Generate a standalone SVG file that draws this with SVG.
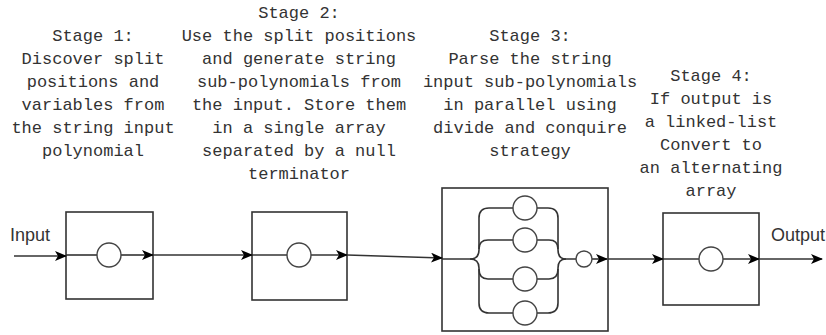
<svg xmlns="http://www.w3.org/2000/svg" width="826" height="335" viewBox="0 0 826 335">
  <style>
    .box { fill: #ffffff; stroke: #333333; stroke-width: 1.6; }
    .node { fill: #ffffff; stroke: #444444; stroke-width: 1.4; }
    .wire { fill: none; stroke: #333333; stroke-width: 1.6; }
    .label { font-family: "Liberation Mono", "Courier New", monospace; font-size: 17px; fill: #333333; text-anchor: middle; }
    .io { font-family: "Liberation Sans", Arial, sans-serif; font-size: 18px; fill: #333333; }
  </style>
  <defs>
    <marker id="arrow" viewBox="0 0 12 10" refX="11" refY="5" markerWidth="12" markerHeight="10" markerUnits="userSpaceOnUse" orient="auto">
      <path d="M0,0 L12,5 L0,10 L3,5 Z" fill="#000000"/>
    </marker>
  </defs>

  <!-- stage descriptions -->
  <g id="text-stage1">
    <text class="label" x="93" y="41">Stage 1:</text>
    <text class="label" x="93" y="64">Discover split</text>
    <text class="label" x="93" y="87">positions and</text>
    <text class="label" x="93" y="110">variables from</text>
    <text class="label" x="93" y="133">the string input</text>
    <text class="label" x="93" y="156">polynomial</text>
  </g>
  <g id="text-stage2">
    <text class="label" x="299" y="18">Stage 2:</text>
    <text class="label" x="299" y="41">Use the split positions</text>
    <text class="label" x="299" y="64">and generate string</text>
    <text class="label" x="299" y="87">sub-polynomials from</text>
    <text class="label" x="299" y="110">the input. Store them</text>
    <text class="label" x="299" y="133">in a single array</text>
    <text class="label" x="299" y="156">separated by a null</text>
    <text class="label" x="299" y="179">terminator</text>
  </g>
  <g id="text-stage3">
    <text class="label" x="530" y="41">Stage 3:</text>
    <text class="label" x="530" y="64">Parse the string</text>
    <text class="label" x="530" y="87">input sub-polynomials</text>
    <text class="label" x="530" y="110">in parallel using</text>
    <text class="label" x="530" y="133">divide and conquire</text>
    <text class="label" x="530" y="156">strategy</text>
  </g>
  <g id="text-stage4">
    <text class="label" x="711" y="81">Stage 4:</text>
    <text class="label" x="711" y="104">If output is</text>
    <text class="label" x="711" y="127">a linked-list</text>
    <text class="label" x="711" y="150">Convert to</text>
    <text class="label" x="711" y="173">an alternating</text>
    <text class="label" x="711" y="196">array</text>
  </g>
  <g id="input-label"><text class="io" x="10" y="241">Input</text></g>
  <g id="output-label"><text class="io" x="771" y="241">Output</text></g>

  <!-- stage 1: discovery -->
  <g id="stage1">
    <rect class="box" x="66" y="212" width="87" height="87"/>
    <line class="wire" x1="66" y1="255" x2="97" y2="255"/>
    <line class="wire" x1="121" y1="255" x2="153" y2="255" marker-end="url(#arrow)"/>
    <circle class="node" cx="109" cy="255" r="12"/>
  </g>

  <!-- stage 2: sub-polynomial generation -->
  <g id="stage2">
    <rect class="box" x="252" y="212" width="95" height="88"/>
    <line class="wire" x1="252" y1="255" x2="287" y2="255"/>
    <line class="wire" x1="311" y1="255" x2="347" y2="255" marker-end="url(#arrow)"/>
    <circle class="node" cx="299" cy="255" r="12"/>
  </g>

  <!-- stage 3: parallel parsing -->
  <g id="stage3">
    <rect class="box" x="442" y="188" width="166" height="143"/>
    <!-- fork -->
    <path class="wire" d="M442 259 L470 259 Q479 259 479 250 L479 218 Q479 208 489 208 L513 208"/>
    <path class="wire" d="M470 259 Q479 259 479 268 L479 303 Q479 313 489 313 L513 313"/>
    <path class="wire" d="M479 249 Q479 240 488 240 L513 240"/>
    <path class="wire" d="M479 269 Q479 279 488 279 L513 279"/>
    <!-- join -->
    <path class="wire" d="M537 208 L548 208 Q558 208 558 218 L558 250 Q558 259 566 259 L576 259"/>
    <path class="wire" d="M566 259 Q558 259 558 268 L558 303 Q558 313 548 313 L537 313"/>
    <path class="wire" d="M537 240 L549 240 Q558 240 558 249"/>
    <path class="wire" d="M537 279 L549 279 Q558 279 558 269"/>
    <line class="wire" x1="592" y1="259" x2="607" y2="259" marker-end="url(#arrow)"/>
    <circle class="node" cx="525" cy="208" r="12"/>
    <circle class="node" cx="525" cy="240" r="12"/>
    <circle class="node" cx="525" cy="279" r="12"/>
    <circle class="node" cx="525" cy="313" r="12"/>
    <circle class="node" cx="584" cy="259" r="8"/>
  </g>

  <!-- stage 4: output conversion -->
  <g id="stage4">
    <rect class="box" x="663" y="213" width="96" height="92"/>
    <line class="wire" x1="663" y1="259" x2="699" y2="259"/>
    <line class="wire" x1="723" y1="259" x2="759" y2="259" marker-end="url(#arrow)"/>
    <circle class="node" cx="711" cy="259" r="12"/>
  </g>

  <!-- connectors between stages -->
  <g id="connectors">
    <line class="wire" x1="14" y1="256" x2="66" y2="256" marker-end="url(#arrow)"/>
    <line class="wire" x1="153" y1="255" x2="252" y2="255" marker-end="url(#arrow)"/>
    <line class="wire" x1="347" y1="255" x2="442" y2="258" marker-end="url(#arrow)"/>
    <line class="wire" x1="608" y1="259" x2="663" y2="259" marker-end="url(#arrow)"/>
    <line class="wire" x1="759" y1="259" x2="822" y2="259" marker-end="url(#arrow)"/>
  </g>
</svg>
